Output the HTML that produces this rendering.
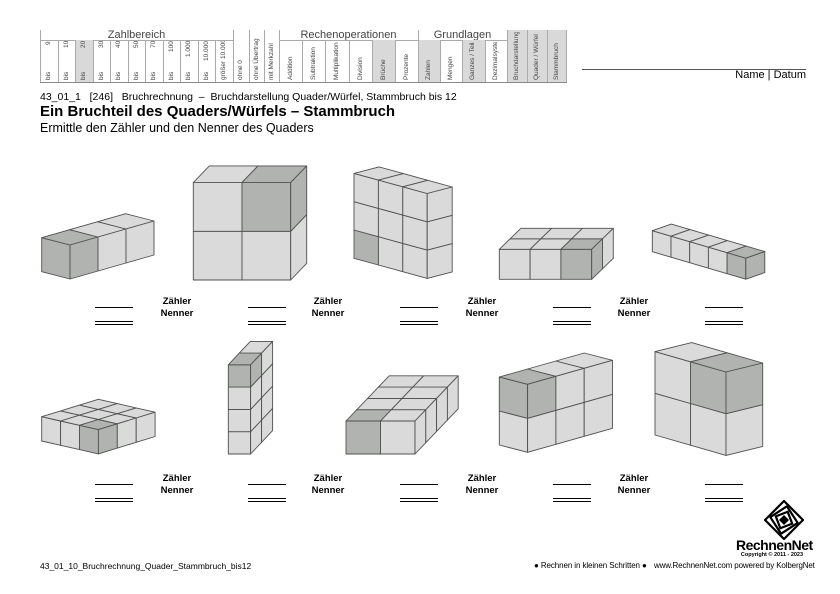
<!DOCTYPE html>
<html><head><meta charset="utf-8"><style>
body{margin:0;width:840px;height:594px;background:#fff;position:relative;font-family:"Liberation Sans",sans-serif;overflow:hidden}
.a{position:absolute}
.c{position:absolute;writing-mode:vertical-rl;transform:rotate(180deg);font-size:6.5px;color:#444;white-space:nowrap;overflow:hidden}
.col{position:absolute;border-left:1px solid #aaa;box-sizing:border-box}
.g{background:#d9d9d9}
.lbl{position:absolute;font-size:9.5px;font-weight:bold;text-align:center;width:40px;line-height:12px}
.l1{position:absolute;width:38px;height:0;border-top:1.3px solid #000}
.l2{position:absolute;width:38px;height:2px;border-top:1.3px solid #000;border-bottom:1.3px solid #000}
</style></head><body>
<div class="a" style="left:40px;top:30px;width:193px;height:10px;font-size:11px;color:#444;text-align:center;line-height:10px">Zahlbereich</div>
<div class="a" style="left:279px;top:30px;width:139px;height:10px;font-size:11px;color:#444;text-align:center;line-height:10px">Rechenoperationen</div>
<div class="a" style="left:418px;top:30px;width:89px;height:10px;font-size:11px;color:#444;text-align:center;line-height:10px">Grundlagen</div>
<div class="a" style="left:40px;top:40px;width:193px;border-top:1px solid #aaa"></div>
<div class="a" style="left:279px;top:40px;width:228px;border-top:1px solid #aaa"></div>
<div class="a" style="left:40px;top:82px;width:527px;border-top:1px solid #888"></div>

<div class="col" style="left:40px;top:30px;width:17.5px;height:52px"></div>
<div class="col" style="left:57.5px;top:40px;width:17.5px;height:42px"></div>
<div class="col g" style="left:75px;top:40px;width:17.5px;height:42px"></div>
<div class="col" style="left:92.5px;top:40px;width:17.5px;height:42px"></div>
<div class="col" style="left:110px;top:40px;width:17.5px;height:42px"></div>
<div class="col" style="left:127.5px;top:40px;width:17.5px;height:42px"></div>
<div class="col" style="left:145px;top:40px;width:17.5px;height:42px"></div>
<div class="col" style="left:162.5px;top:40px;width:17.5px;height:42px"></div>
<div class="col" style="left:180px;top:40px;width:17.5px;height:42px"></div>
<div class="col" style="left:197.5px;top:40px;width:17.5px;height:42px"></div>
<div class="col" style="left:215px;top:40px;width:18px;height:42px"></div>
<div class="col" style="left:233px;top:30px;width:15.5px;height:52px"></div>
<div class="col" style="left:248.5px;top:30px;width:15.5px;height:52px"></div>
<div class="col" style="left:264px;top:30px;width:15px;height:52px"></div>
<div class="col" style="left:279px;top:30px;width:23.2px;height:52px"></div>
<div class="col" style="left:302.2px;top:40px;width:23.2px;height:42px"></div>
<div class="col" style="left:325.4px;top:40px;width:23.2px;height:42px"></div>
<div class="col" style="left:348.6px;top:40px;width:23.2px;height:42px"></div>
<div class="col g" style="left:371.8px;top:40px;width:23.2px;height:42px"></div>
<div class="col" style="left:395px;top:40px;width:23px;height:42px"></div>
<div class="col" style="left:418px;top:30px;width:22.2px;height:52px"></div>
<div class="col g" style="left:418px;top:40px;width:22.2px;height:42px"></div>
<div class="col" style="left:440.2px;top:40px;width:22.2px;height:42px"></div>
<div class="col g" style="left:462.4px;top:40px;width:22.2px;height:42px"></div>
<div class="col" style="left:484.6px;top:40px;width:22.4px;height:42px"></div>
<div class="col g" style="left:507px;top:30px;width:20px;height:52px"></div>
<div class="col g" style="left:527px;top:30px;width:20px;height:52px"></div>
<div class="col g" style="left:547px;top:30px;width:20px;height:52px;border-right:1px solid #aaa"></div>

<div class="c" style="left:40px;top:41px;width:17.5px;height:18px;line-height:17.5px;text-align:right">9</div>
<div class="c" style="left:57.5px;top:41px;width:17.5px;height:18px;line-height:17.5px;text-align:right">10</div>
<div class="c" style="left:75px;top:41px;width:17.5px;height:18px;line-height:17.5px;text-align:right">20</div>
<div class="c" style="left:92.5px;top:41px;width:17.5px;height:18px;line-height:17.5px;text-align:right">30</div>
<div class="c" style="left:110px;top:41px;width:17.5px;height:18px;line-height:17.5px;text-align:right">40</div>
<div class="c" style="left:127.5px;top:41px;width:17.5px;height:18px;line-height:17.5px;text-align:right">50</div>
<div class="c" style="left:145px;top:41px;width:17.5px;height:18px;line-height:17.5px;text-align:right">70</div>
<div class="c" style="left:162.5px;top:41px;width:17.5px;height:18px;line-height:17.5px;text-align:right">100</div>
<div class="c" style="left:180px;top:41px;width:17.5px;height:18px;line-height:17.5px;text-align:right">1.000</div>
<div class="c" style="left:197.5px;top:41px;width:17.5px;height:22px;line-height:17.5px;text-align:right">10.000</div>
<div class="c" style="left:215px;top:41px;width:18px;height:39px;line-height:18px;text-align:left">größer 10.000</div>
<div class="c" style="left:40px;top:64px;width:17.5px;height:16px;line-height:17.5px;text-align:left">bis</div>
<div class="c" style="left:57.5px;top:64px;width:17.5px;height:16px;line-height:17.5px;text-align:left">bis</div>
<div class="c" style="left:75px;top:64px;width:17.5px;height:16px;line-height:17.5px;text-align:left">bis</div>
<div class="c" style="left:92.5px;top:64px;width:17.5px;height:16px;line-height:17.5px;text-align:left">bis</div>
<div class="c" style="left:110px;top:64px;width:17.5px;height:16px;line-height:17.5px;text-align:left">bis</div>
<div class="c" style="left:127.5px;top:64px;width:17.5px;height:16px;line-height:17.5px;text-align:left">bis</div>
<div class="c" style="left:145px;top:64px;width:17.5px;height:16px;line-height:17.5px;text-align:left">bis</div>
<div class="c" style="left:162.5px;top:64px;width:17.5px;height:16px;line-height:17.5px;text-align:left">bis</div>
<div class="c" style="left:180px;top:64px;width:17.5px;height:16px;line-height:17.5px;text-align:left">bis</div>
<div class="c" style="left:197.5px;top:64px;width:17.5px;height:16px;line-height:17.5px;text-align:left">bis</div>
<div class="c" style="left:233px;top:33px;width:15.5px;height:47px;line-height:15.5px;text-align:left">ohne 0</div>
<div class="c" style="left:248.5px;top:33px;width:15.5px;height:47px;line-height:15.5px;text-align:left">ohne Übertrag</div>
<div class="c" style="left:264px;top:33px;width:15px;height:47px;line-height:15px;text-align:left">mit Merkzahl</div>
<div class="c" style="left:279px;top:42px;width:23.2px;height:38px;line-height:23.2px;text-align:left">Addition</div>
<div class="c" style="left:302.2px;top:42px;width:23.2px;height:38px;line-height:23.2px;text-align:left">Subtraktion</div>
<div class="c" style="left:325.4px;top:42px;width:23.2px;height:38px;line-height:23.2px;text-align:left">Multiplikation</div>
<div class="c" style="left:348.6px;top:42px;width:23.2px;height:38px;line-height:23.2px;text-align:left">Division</div>
<div class="c" style="left:371.8px;top:42px;width:23.2px;height:38px;line-height:23.2px;text-align:left">Brüche</div>
<div class="c" style="left:395px;top:42px;width:23px;height:38px;line-height:23px;text-align:left">Prozente</div>
<div class="c" style="left:418px;top:42px;width:22.2px;height:38px;line-height:22.2px;text-align:left">Zahlen</div>
<div class="c" style="left:440.2px;top:42px;width:22.2px;height:38px;line-height:22.2px;text-align:left">Mengen</div>
<div class="c" style="left:462.4px;top:42px;width:22.2px;height:38px;line-height:22.2px;text-align:left">Ganzes / Teile</div>
<div class="c" style="left:484.6px;top:42px;width:22.4px;height:38px;line-height:22.4px;text-align:left">Dezimalsystem</div>
<div class="c" style="left:507px;top:32px;width:20px;height:48px;line-height:20px;text-align:left">Bruchdarstellung</div>
<div class="c" style="left:527px;top:32px;width:20px;height:48px;line-height:20px;text-align:left">Quader / Würfel</div>
<div class="c" style="left:547px;top:32px;width:20px;height:48px;line-height:20px;text-align:left">Stammbruch</div>

<div class="a" style="left:582px;top:69px;width:224px;border-top:1px solid #555"></div>
<div class="a" style="left:700px;top:69px;width:106px;text-align:right;font-size:11px;line-height:13px">Name | Datum</div>

<div class="a" style="left:40px;top:91px;font-size:10.5px;white-space:pre">43_01_1   [246]   Bruchrechnung  –  Bruchdarstellung Quader/Würfel, Stammbruch bis 12</div>
<div class="a" style="left:40px;top:103px;font-size:15px;font-weight:bold">Ein Bruchteil des Quaders/Würfels – Stammbruch</div>
<div class="a" style="left:40px;top:121px;font-size:12.5px">Ermittle den Zähler und den Nenner des Quaders</div>

<svg class="a" id="sv" style="left:0;top:0" width="840" height="594"></svg>

<div class="l1" style="left:95px;top:307px"></div><div class="l2" style="left:95px;top:321px"></div>
<div class="l1" style="left:248px;top:307px"></div><div class="l2" style="left:248px;top:321px"></div>
<div class="l1" style="left:400px;top:307px"></div><div class="l2" style="left:400px;top:321px"></div>
<div class="l1" style="left:553px;top:307px"></div><div class="l2" style="left:553px;top:321px"></div>
<div class="l1" style="left:705px;top:307px"></div><div class="l2" style="left:705px;top:321px"></div>
<div class="lbl" style="left:157px;top:296px">Zähler<br>Nenner</div>
<div class="lbl" style="left:308px;top:296px">Zähler<br>Nenner</div>
<div class="lbl" style="left:462px;top:296px">Zähler<br>Nenner</div>
<div class="lbl" style="left:614px;top:296px">Zähler<br>Nenner</div>
<div class="l1" style="left:95px;top:484px"></div><div class="l2" style="left:95px;top:498px"></div>
<div class="l1" style="left:248px;top:484px"></div><div class="l2" style="left:248px;top:498px"></div>
<div class="l1" style="left:400px;top:484px"></div><div class="l2" style="left:400px;top:498px"></div>
<div class="l1" style="left:553px;top:484px"></div><div class="l2" style="left:553px;top:498px"></div>
<div class="l1" style="left:705px;top:484px"></div><div class="l2" style="left:705px;top:498px"></div>
<div class="lbl" style="left:157px;top:473px">Zähler<br>Nenner</div>
<div class="lbl" style="left:308px;top:473px">Zähler<br>Nenner</div>
<div class="lbl" style="left:462px;top:473px">Zähler<br>Nenner</div>
<div class="lbl" style="left:614px;top:473px">Zähler<br>Nenner</div>

<svg class="a" style="left:764px;top:500px" width="40" height="40" viewBox="0 0 40 40">
<g fill="none" stroke="#000" stroke-width="2.2">
<polygon points="20,1 39,20 20,39 1,20"/>
<polygon points="20,6 34,20 20,34 6,20" transform="rotate(12 20 20)"/>
<polygon points="20,11 29,20 20,29 11,20" transform="rotate(24 20 20)"/>
</g><polygon points="20,15 25,20 20,25 15,20" fill="#000"/></svg>
<div class="a" style="left:736px;top:538px;width:72px;text-align:center;font-size:14px;font-weight:bold;letter-spacing:-0.5px;line-height:15px">RechnenNet</div>
<div class="a" style="left:736px;top:552px;width:72px;text-align:center;font-size:5.5px;font-weight:bold">Copyright © 2011 - 2023</div>

<div class="a" style="left:40px;top:561px;font-size:8.5px">43_01_10_Bruchrechnung_Quader_Stammbruch_bis12</div>
<div class="a" style="left:534px;top:561px;font-size:8px;letter-spacing:-0.1px">● Rechnen in kleinen Schritten ●</div>
<div class="a" style="left:654px;top:561px;font-size:8px;letter-spacing:-0.15px">www.RechnenNet.com powered by KolbergNet</div>

<script>
var sv=document.getElementById('sv'),out='';
function box(ox,oy,ex,ey,ez,nx,ny,nz,d){
 function P(x,y,z){return (ox+x*ex[0]+z*ez[0]).toFixed(1)+','+(oy+x*ex[1]-y*ey+z*ez[1]).toFixed(1);}
 function q(a,b,c,e,dk){out+='<polygon points="'+a+' '+b+' '+c+' '+e+'" fill="'+(dk?'#b1b3b1':'#dadada')+'" stroke="#505050" stroke-width="0.9" stroke-linejoin="round"/>';}
 for(var i=0;i<nx;i++)for(var j=0;j<ny;j++)q(P(i,j,0),P(i+1,j,0),P(i+1,j+1,0),P(i,j+1,0),d[0]==i&&d[1]==j&&d[2]==0);
 for(var i=0;i<nx;i++)for(var k=0;k<nz;k++)q(P(i,ny,k),P(i+1,ny,k),P(i+1,ny,k+1),P(i,ny,k+1),d[0]==i&&d[1]==ny-1&&d[2]==k);
 for(var j=0;j<ny;j++)for(var k=0;k<nz;k++)q(P(nx,j,k),P(nx,j+1,k),P(nx,j+1,k+1),P(nx,j,k+1),d[0]==nx-1&&d[1]==j&&d[2]==k);
}
box(41.7,271.7,[28.3,7.3],34,[28,-8],1,1,3,[0,0,0]);
box(193.3,280,[48.7,0],48.7,[16,-16.7],2,2,1,[1,1,0]);
box(354,258.3,[24.4,6.7],28.3,[25,-6.5],3,3,1,[0,0,0]);
box(499.3,279.3,[30.8,0],30,[10.8,-10.5],3,1,2,[2,0,0]);
box(652.3,251.7,[18.7,5.5],21,[19,-6.6],5,1,1,[4,0,0]);
box(41.7,441,[18.9,4.3],24.3,[18.9,-5.8],3,1,3,[2,0,0]);
box(228.3,454,[22.3,0],22.3,[11,-11.7],1,4,2,[0,3,0]);
box(346,454,[34.5,0],33,[10.8,-11.3],2,1,4,[0,0,0]);
box(499.3,445,[28.3,7.3],34,[28.3,-8],1,2,3,[0,1,0]);
box(655,435,[35.5,10.2],41.7,[36.7,-9],2,2,1,[1,1,0]);
sv.innerHTML=out;
</script>
</body></html>
